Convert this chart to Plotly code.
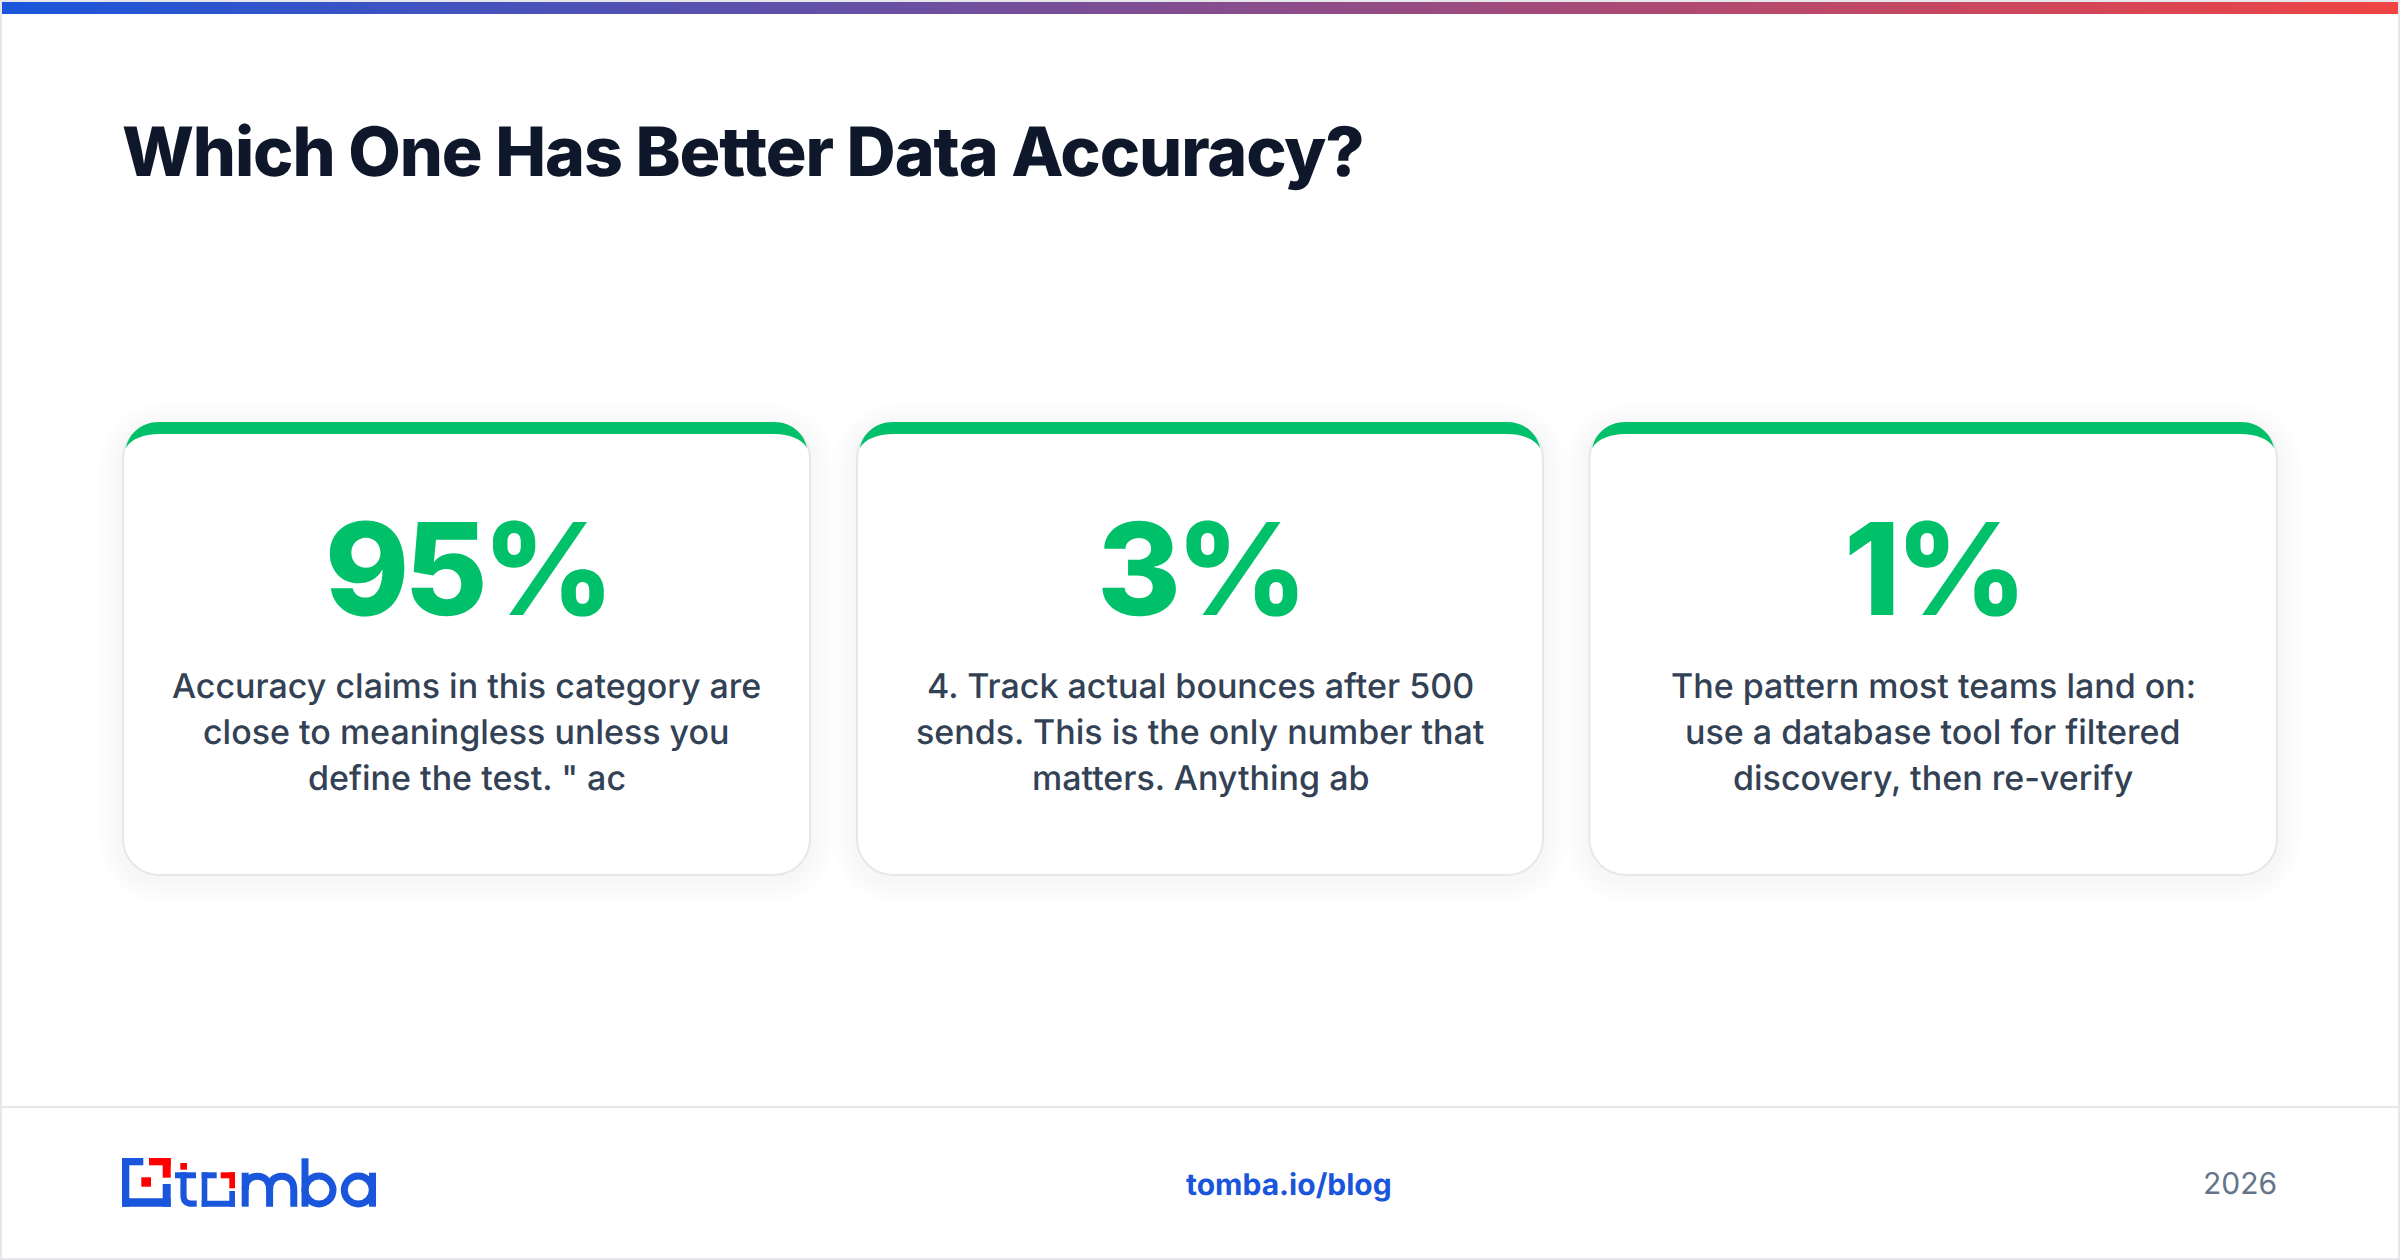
import numpy as np
import plotly.graph_objects as go

W, H = 2400, 1260

title_text = "Which One Has Better Data Accuracy?"
stat_values = ["95%", "3%", "1%"]
card_lines = [
    ["Accuracy claims in this category are", "close to meaningless unless you", 'define the test. " ac'],
    ["4. Track actual bounces after 500", "sends. This is the only number that", "matters. Anything ab"],
    ["The pattern most teams land on:", "use a database tool for filtered", "discovery, then re-verify"],
]
footer_link = "tomba.io/blog"
footer_year = "2026"

GREEN = "#00c16a"
BLUE = "#1a56db"
RED = "#ff0000"
BORDER = "#e5e7eb"
FONT = "Inter"

CARD_LEFTS = [122, 856, 1588.4]
CARD_WIDTHS = [689, 688, 689.6]
CARD_TOP = 422
CARD_BOTTOM = 876
LINE_Y = [685, 731, 777]


def rounded_rect(x0, y0, x1, y1, r):
    k = r * 0.448
    return (
        f"M{x0 + r} {y0} H{x1 - r} C{x1 - k} {y0} {x1} {y0 + k} {x1} {y0 + r} "
        f"V{y1 - r} C{x1} {y1 - k} {x1 - k} {y1} {x1 - r} {y1} "
        f"H{x0 + r} C{x0 + k} {y1} {x0} {y1 - k} {x0} {y1 - r} "
        f"V{y0 + r} C{x0} {y0 + k} {x0 + k} {y0} {x0 + r} {y0} Z"
    )


def green_cap(x0, x1):
    return (
        f"M{x0 + 4} 448 C{x0 + 7} 433 {x0 + 20} 422 {x0 + 37} 422 H{x1 - 37} "
        f"C{x1 - 20} 422 {x1 - 7} 433 {x1 - 4} 448 "
        f"C{x1 - 9} 439 {x1 - 22} 434 {x1 - 37} 434 H{x0 + 37} "
        f"C{x0 + 22} 434 {x0 + 9} 439 {x0 + 4} 448 Z"
    )


def rect(x0, y0, x1, y1, color):
    return dict(type="rect", x0=x0, y0=y0, x1=x1, y1=y1, fillcolor=color, line_width=0)


def stroke(path, color=BLUE, width=7):
    return dict(type="path", path=path, line=dict(color=color, width=width), fillcolor="rgba(0,0,0,0)")


def ring(cx, cy, r, color=BLUE, width=7):
    return dict(type="circle", x0=cx - r, y0=cy - r, x1=cx + r, y1=cy + r,
                line=dict(color=color, width=width), fillcolor="rgba(0,0,0,0)")


shapes = [
    # page frame and footer rule
    dict(type="rect", x0=1, y0=1, x1=W - 1, y1=H - 1, line=dict(color=BORDER, width=2), layer="below"),
    rect(2, 1106, W - 2, 1108, BORDER),
]

for left, width in zip(CARD_LEFTS, CARD_WIDTHS):
    right = left + width
    # soft shadow, stacked from wide to narrow
    for grow in range(24, 0, -3):
        shapes.append(dict(type="path", path=rounded_rect(left - grow, CARD_TOP + 4 - grow, right + grow, CARD_BOTTOM + 4 + grow, 36 + grow),
                           fillcolor="rgba(15,23,42,0.002)", line_width=0))
    shapes.append(dict(type="path", path=rounded_rect(left + 1, CARD_TOP + 1, right - 1, CARD_BOTTOM - 1, 36),
                       fillcolor="white", line=dict(color=BORDER, width=2)))
    shapes.append(dict(type="path", path=green_cap(left, right), fillcolor=GREEN, line_width=0))

# logo mark
shapes += [
    rect(122, 1158, 143.3, 1165.3, BLUE),
    rect(122, 1158, 129.3, 1206.7, BLUE),
    rect(122, 1198.3, 170.7, 1206.7, BLUE),
    rect(162.7, 1184, 170.7, 1206.7, BLUE),
    rect(149, 1158, 170.7, 1165.3, RED),
    rect(162.7, 1158, 170.7, 1177.7, RED),
    rect(141.3, 1177.3, 151, 1186.7, RED),
    # t
    rect(180.3, 1163, 187, 1169.7, RED),
    rect(175, 1172.3, 196, 1178.3, BLUE),
    stroke("M183.5 1172.3 V1196 C183.5 1201 186.5 1203.7 191.5 1203.7 H196.7", width=6.2),
    # square o
    rect(201.7, 1172.3, 216.7, 1178.3, BLUE),
    rect(201.7, 1172.3, 207.3, 1206.7, BLUE),
    rect(201.7, 1200.7, 235, 1206.7, BLUE),
    rect(229.3, 1191, 235, 1206.7, BLUE),
    rect(220.7, 1172.3, 235, 1178.3, RED),
    rect(229.3, 1172.3, 235, 1188.3, RED),
    # m
    stroke("M245.2 1206.7 V1172.7"),
    stroke("M245.2 1190 C245.2 1181 250 1176.2 257.4 1176.2 C265 1176.2 269.6 1181 269.6 1190 V1206.7"),
    stroke("M269.6 1190 C269.6 1181 274.4 1176.2 281.8 1176.2 C289.4 1176.2 293.8 1181 293.8 1190 V1206.7"),
    # b
    stroke("M305 1158.3 V1206.7"),
    ring(319, 1190, 14),
    # a
    ring(358.3, 1190, 14),
    stroke("M372.5 1172.7 V1206.7"),
]

annotations = []
for left, width, value, lines in zip(CARD_LEFTS, CARD_WIDTHS, stat_values, card_lines):
    center = left + width / 2
    annotations.append(dict(x=center, y=568, text=value, showarrow=False, xanchor="center", yanchor="middle",
                            font=dict(family=FONT, size=128, color=GREEN, weight=800)))
    for y, line in zip(LINE_Y, lines):
        annotations.append(dict(x=center, y=y, text=line, showarrow=False, xanchor="center", yanchor="middle",
                                font=dict(family=FONT, size=34, color="#334155", weight=500)))

annotations.append(dict(x=1288.8, y=1184, text=footer_link, showarrow=False, xanchor="center", yanchor="middle",
                        font=dict(family=FONT, size=30, color=BLUE, weight=700)))
annotations.append(dict(x=2279, y=1183, text=footer_year, showarrow=False, xanchor="right", yanchor="middle",
                        font=dict(family=FONT, size=30, color="#64748b", weight=400)))

# top accent bar, blue to red
bar = go.Heatmap(
    z=[np.linspace(0, 1, 600).tolist()],
    x0=2 + (W - 4) / 1200, dx=(W - 4) / 600, y0=8, dy=12,
    colorscale=[[0, BLUE], [1, "#ef4444"]],
    showscale=False, hoverinfo="skip",
)

fig = go.Figure(data=[bar])
fig.update_layout(
    width=W, height=H,
    margin=dict(l=0, r=0, t=0, b=0),
    paper_bgcolor="white", plot_bgcolor="white",
    showlegend=False,
    title=dict(text=title_text, x=122 / W, xanchor="left", xref="paper", y=1 - 152.3 / H, yanchor="middle", yref="paper",
               font=dict(family=FONT, size=68, color="#0f172a", weight=800)),
    shapes=shapes,
    annotations=annotations,
    xaxis=dict(range=[0, W], visible=False, fixedrange=True),
    yaxis=dict(range=[H, 0], visible=False, fixedrange=True),
)

# plotly has no letter spacing option, so it is set on the svg text after drawing
tracking = """
document.body.style.margin='0';
document.documentElement.style.overflow='hidden';
var spacing = {'68': '-1.12px', '128': '-5.12px'};
document.querySelectorAll('svg text').forEach(function (t) {
    var s = spacing[String(parseFloat(t.style.fontSize))];
    if (s) { t.style.letterSpacing = s; }
    t.style.textRendering = 'geometricPrecision';
});
"""
fig.write_html("out.html", config=dict(displayModeBar=False), post_script=tracking)
